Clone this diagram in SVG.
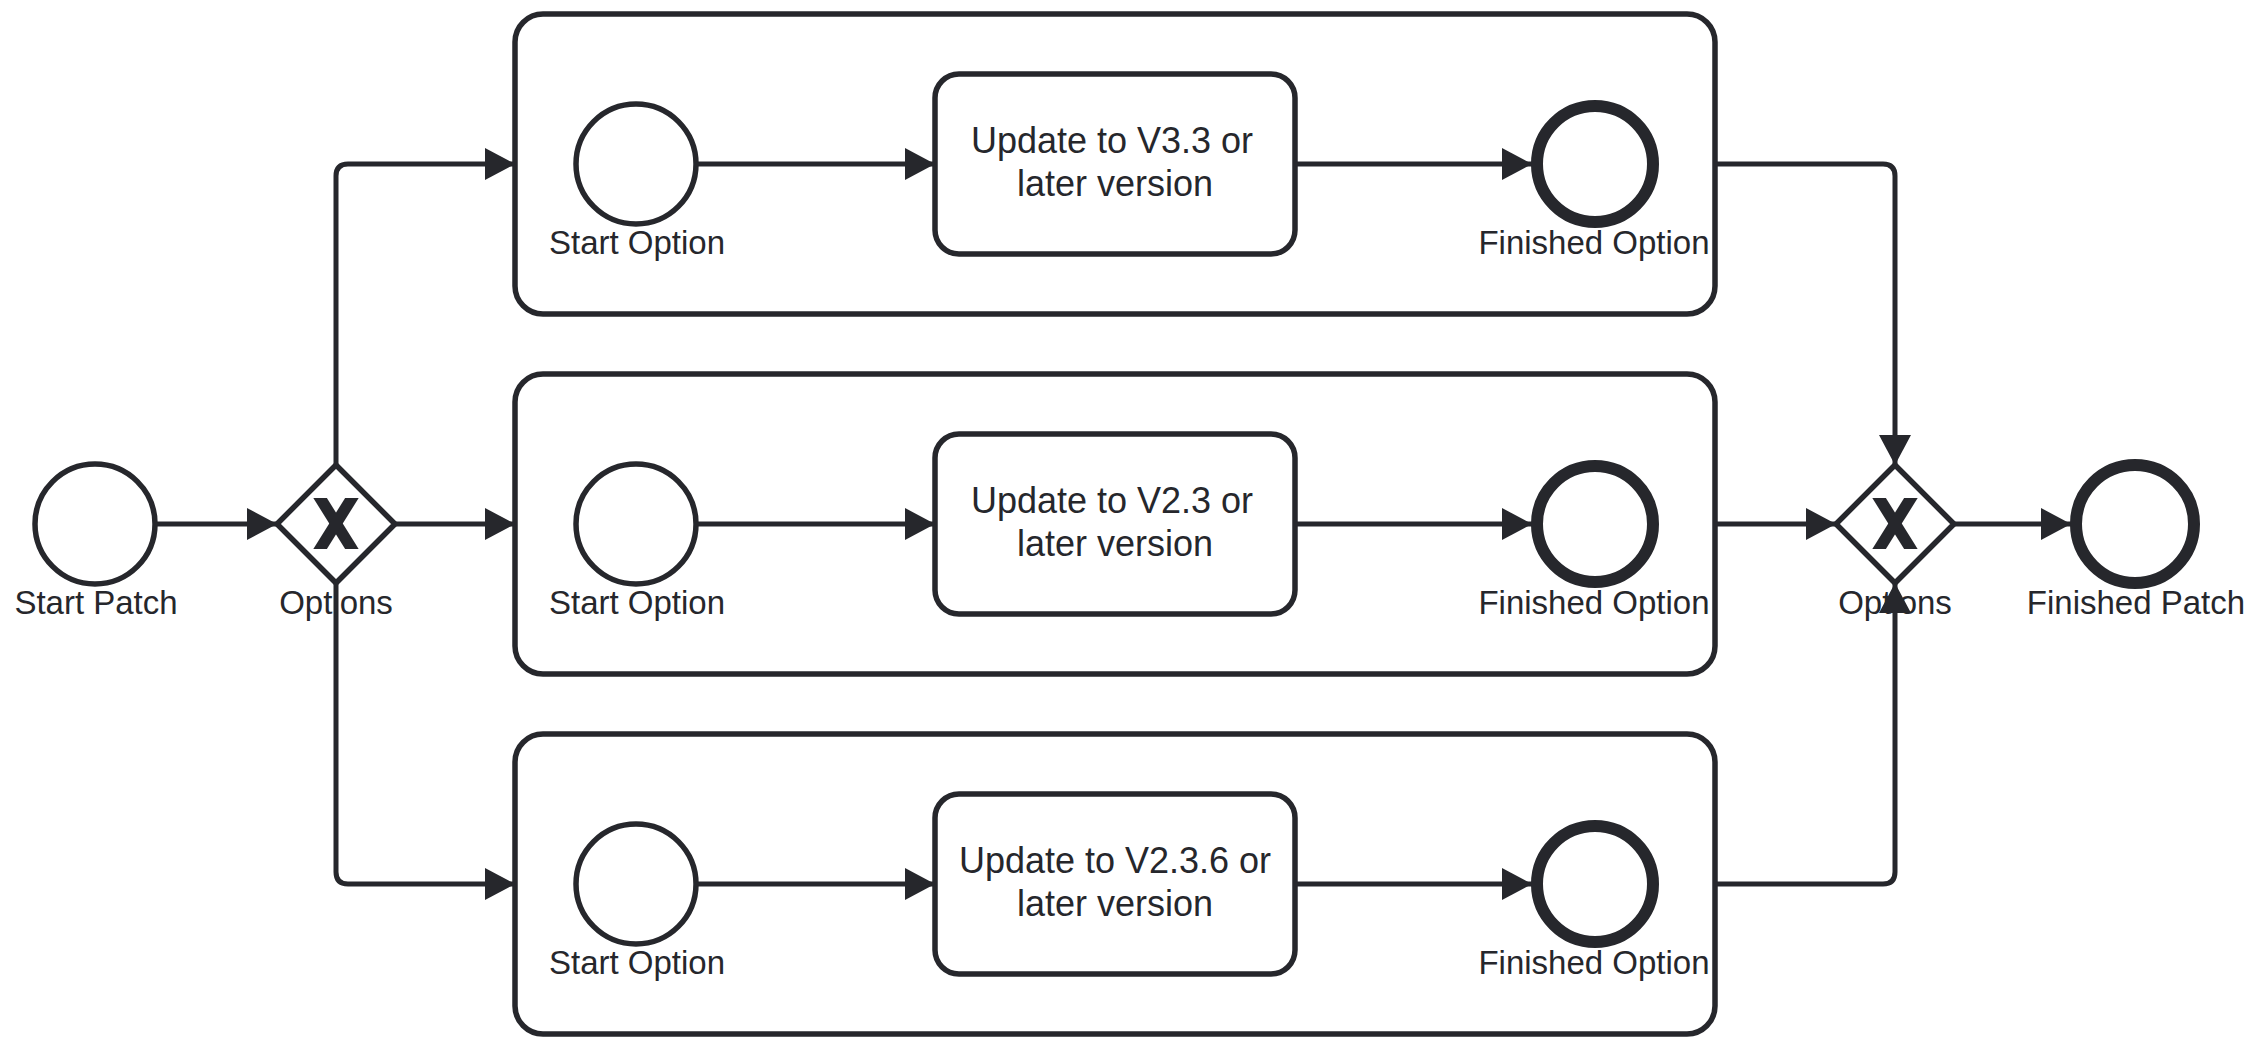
<svg xmlns="http://www.w3.org/2000/svg" width="2262" height="1050" viewBox="0 0 2262 1050">
<style>
.shape{fill:#ffffff;stroke:#26272c;stroke-width:5.5}
.end{fill:#ffffff;stroke:#26272c;stroke-width:12}
.lbl{font-family:"Liberation Sans",Arial,sans-serif;font-size:33px;fill:#26272c;text-anchor:middle}
.task{font-family:"Liberation Sans",Arial,sans-serif;font-size:36px;fill:#26272c;text-anchor:middle}
.xm{stroke:#26272c;stroke-width:11.5;fill:none}
.conn{fill:none;stroke:#26272c;stroke-width:5;marker-end:url(#arrow)}
</style>
<defs>
<marker id="arrow" markerUnits="userSpaceOnUse" markerWidth="32" markerHeight="34" refX="30" refY="16" orient="auto">
<path d="M0,0 L30,16 L0,32 Z" fill="#26272c"/>
</marker>
<clipPath id="xclip1"><rect x="300" y="498" width="72" height="51"/></clipPath>
<clipPath id="xclip2"><rect x="1859" y="498" width="72" height="51"/></clipPath>
</defs>
<rect width="2262" height="1050" fill="#ffffff"/>

<g id="sub1"><rect class="shape" x="515" y="14" width="1200" height="300" rx="28"/></g>
<g id="sub2"><rect class="shape" x="515" y="374" width="1200" height="300" rx="28"/></g>
<g id="sub3"><rect class="shape" x="515" y="734" width="1200" height="300" rx="28"/></g>

<g id="startPatch"><circle class="shape" cx="95" cy="524" r="60"/><text class="lbl" x="96" y="614">Start Patch</text></g>
<g id="gateway1"><path class="shape" d="M336,465 L395,524 L336,583 L277,524 Z"/>
<g clip-path="url(#xclip1)"><line class="xm" x1="317" y1="493" x2="355" y2="554"/><line class="xm" x1="355" y1="493" x2="317" y2="554"/></g>
<text class="lbl" x="336" y="614">Options</text></g>

<g id="startOpt1"><circle class="shape" cx="636" cy="164" r="60"/><text class="lbl" x="637" y="254">Start Option</text></g>
<g id="task1"><rect class="shape" x="935" y="74" width="360" height="180" rx="24"/><text class="task" x="1112" y="153">Update to V3.3 or</text><text class="task" x="1115" y="196">later version</text></g>
<g id="endOpt1"><circle class="end" cx="1595" cy="164" r="58"/><text class="lbl" x="1594" y="254">Finished Option</text></g>

<g id="startOpt2"><circle class="shape" cx="636" cy="524" r="60"/><text class="lbl" x="637" y="614">Start Option</text></g>
<g id="task2"><rect class="shape" x="935" y="434" width="360" height="180" rx="24"/><text class="task" x="1112" y="513">Update to V2.3 or</text><text class="task" x="1115" y="556">later version</text></g>
<g id="endOpt2"><circle class="end" cx="1595" cy="524" r="58"/><text class="lbl" x="1594" y="614">Finished Option</text></g>

<g id="startOpt3"><circle class="shape" cx="636" cy="884" r="60"/><text class="lbl" x="637" y="974">Start Option</text></g>
<g id="task3"><rect class="shape" x="935" y="794" width="360" height="180" rx="24"/><text class="task" x="1115" y="873">Update to V2.3.6 or</text><text class="task" x="1115" y="916">later version</text></g>
<g id="endOpt3"><circle class="end" cx="1595" cy="884" r="58"/><text class="lbl" x="1594" y="974">Finished Option</text></g>

<g id="gateway2"><path class="shape" d="M1895,465 L1954,524 L1895,583 L1836,524 Z"/>
<g clip-path="url(#xclip2)"><line class="xm" x1="1876" y1="493" x2="1914" y2="554"/><line class="xm" x1="1914" y1="493" x2="1876" y2="554"/></g>
<text class="lbl" x="1895" y="614">Options</text></g>
<g id="finishedPatch"><circle class="end" cx="2135" cy="524" r="59"/><text class="lbl" x="2136" y="614">Finished Patch</text></g>

<g id="connectors">
<path class="conn" d="M157,524 H277"/>
<path class="conn" d="M336,465 V176 Q336,164 348,164 H515"/>
<path class="conn" d="M395,524 H515"/>
<path class="conn" d="M336,583 V872 Q336,884 348,884 H515"/>
<path class="conn" d="M696,164 H935"/>
<path class="conn" d="M1295,164 H1532"/>
<path class="conn" d="M696,524 H935"/>
<path class="conn" d="M1295,524 H1532"/>
<path class="conn" d="M696,884 H935"/>
<path class="conn" d="M1295,884 H1532"/>
<path class="conn" d="M1715,164 H1883 Q1895,164 1895,176 V465"/>
<path class="conn" d="M1715,524 H1836"/>
<path class="conn" d="M1715,884 H1883 Q1895,884 1895,872 V583"/>
<path class="conn" d="M1954,524 H2071"/>
</g>
</svg>
